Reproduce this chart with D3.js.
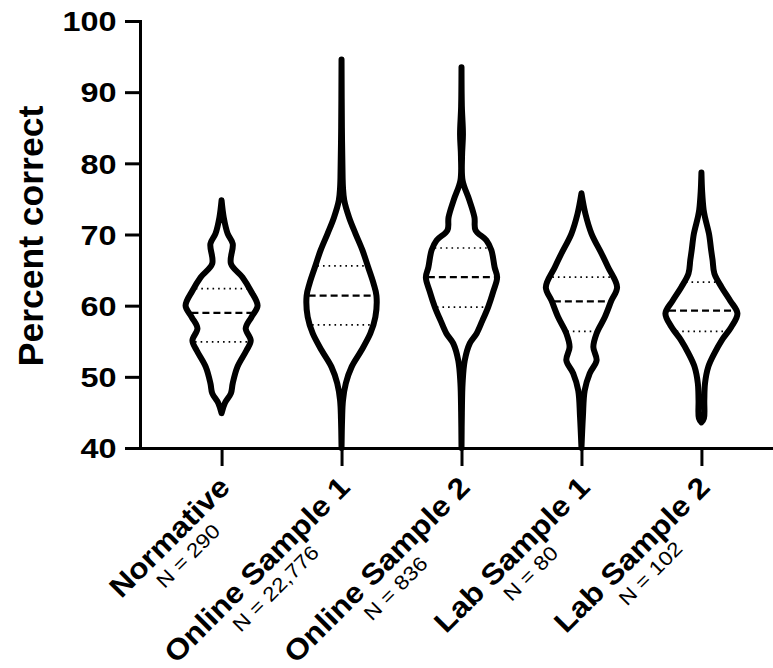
<!DOCTYPE html>
<html>
<head>
<meta charset="utf-8">
<script src="https://cdn.jsdelivr.net/npm/d3@7"></script>
<style>
  body { margin: 0; background: #fff; }
</style>
</head>
<body>
<svg id="chart" width="773" height="668"></svg>
<script>
// groups and sample sizes
const groups = ["Normative", "Online Sample 1", "Online Sample 2", "Lab Sample 1", "Lab Sample 2"];
const sampleN = ["N = 290", "N = 22,776", "N = 836", "N = 80", "N = 102"];

// quartiles (percent correct)
const q1 = [54.9, 57.3, 59.8, 56.4, 56.4];
const medians = [59.0, 61.4, 64.0, 60.6, 59.3];
const q3 = [62.4, 65.6, 68.1, 64.0, 63.3];

// violin outlines: [percent correct, relative density]
const densNormative = [
  [74.8, 0], [72.4, 0.06], [70.1, 0.17], [68.7, 0.31], [65.9, 0.26], [64.0, 0.58],
  [62.1, 0.81], [60.0, 1.0], [58.4, 0.83], [56.8, 0.67], [55.1, 0.81], [53.7, 0.69],
  [51.4, 0.44], [49.1, 0.31], [47.7, 0.26], [46.3, 0.09], [44.9, 0]
];
const densOnline1 = [
  [94.6, 0], [85.0, 0.01], [78.0, 0.03], [76.6, 0.04], [74.8, 0.075], [72.4, 0.21],
  [70.1, 0.39], [67.8, 0.58], [65.4, 0.74], [63.1, 0.89], [61.4, 0.97], [58.4, 0.94],
  [56.1, 0.8], [53.7, 0.55], [51.4, 0.28], [49.1, 0.12], [46.7, 0.04], [44.0, 0.015], [40.0, 0]
];
const densOnline2 = [
  [93.5, 0], [88.0, 0.01], [84.1, 0.04], [81.0, 0.015], [77.6, 0.03], [74.8, 0.22],
  [72.4, 0.36], [70.6, 0.39], [69.2, 0.69], [67.8, 0.83], [65.4, 0.92], [64.0, 0.99],
  [62.1, 0.89], [59.8, 0.74], [57.9, 0.58], [56.1, 0.42], [54.7, 0.23], [52.3, 0.09],
  [49.1, 0.03], [45.0, 0.01], [40.0, 0]
];
const densLab1 = [
  [75.8, 0], [72.9, 0.11], [70.1, 0.28], [67.3, 0.56], [65.4, 0.74], [62.6, 0.99],
  [60.7, 0.83], [58.4, 0.65], [56.1, 0.42], [54.2, 0.33], [52.3, 0.42], [50.5, 0.23],
  [48.1, 0.09], [44.4, 0.04], [40.0, 0]
];
const densLab2 = [
  [78.7, 0], [76.0, 0.02], [73.5, 0.06], [72.4, 0.1], [70.1, 0.21], [67.8, 0.27],
  [66.4, 0.31], [64.5, 0.36], [62.6, 0.56], [60.7, 0.8], [58.9, 1.0], [57.0, 0.83],
  [55.1, 0.56], [53.3, 0.36], [51.4, 0.19], [49.1, 0.1], [46.7, 0.08], [44.2, 0.07], [43.6, 0]
];
const densities = [densNormative, densOnline1, densOnline2, densLab1, densLab2];

const yTicks = [40, 50, 60, 70, 80, 90, 100];

const svg = d3.select("#chart");
const font = "'Liberation Sans', Arial, Helvetica, sans-serif";

// scales
const y = d3.scaleLinear().domain([40, 100]).range([448, 21]);
const x = d3.scalePoint().domain(groups).range([140, 783]).padding(0.68);
const w = d3.scaleLinear().domain([0, 1]).range([0, 36]);

// y axis
const yAxis = svg.append("g")
  .attr("transform", "translate(140,0)")
  .call(d3.axisLeft(y).tickValues(yTicks).tickSize(15).tickSizeOuter(0));
yAxis.select(".domain").attr("stroke-width", 3).attr("stroke-linecap", "square");
yAxis.selectAll(".tick line").attr("stroke-width", 3);
yAxis.selectAll(".tick text")
  .attr("x", 0)
  .attr("dy", "0.36em")
  .attr("transform", "translate(-23.5,0) scale(1.2,1)")
  .attr("font-family", font)
  .attr("font-weight", "bold")
  .attr("font-size", 27);

// x axis
const xAxis = svg.append("g")
  .attr("transform", "translate(0,448)")
  .call(d3.axisBottom(x).tickSize(18).tickSizeOuter(0).tickFormat(""));
xAxis.select(".domain").attr("stroke-width", 3).attr("stroke-linecap", "square");
xAxis.selectAll(".tick line").attr("stroke-width", 3);

// y axis title
svg.append("text")
  .attr("transform", "translate(42.5,236) rotate(-90)")
  .attr("text-anchor", "middle")
  .attr("font-family", font)
  .attr("font-weight", "bold")
  .attr("font-size", 35.5)
  .text("Percent correct");

// half width of a violin at a given value (linear between outline points)
function halfAt(dens, v) {
  for (let k = 0; k < dens.length - 1; k++) {
    const a = dens[k], b = dens[k + 1];
    if (v <= a[0] && v >= b[0]) {
      const t = (a[0] - v) / (a[0] - b[0]);
      return w(a[1] + t * (b[1] - a[1]));
    }
  }
  return 0;
}

// violins
const area = d3.area().curve(d3.curveCatmullRom).y(d => y(d[0]));

groups.forEach((g, i) => {
  const cx = x(g);
  const dens = densities[i];

  svg.append("path")
    .datum(dens)
    .attr("d", area.x0(d => cx - w(d[1])).x1(d => cx + w(d[1])))
    .attr("fill", "none")
    .attr("stroke", "#000")
    .attr("stroke-width", 6)
    .attr("stroke-linejoin", "round");

  // quartile lines
  const lines = [
    { v: q1[i], dash: "1.6,4", sw: 1.7 },
    { v: medians[i], dash: "7,4", sw: 2.2 },
    { v: q3[i], dash: "1.6,4", sw: 1.7 }
  ];
  lines.forEach(l => {
    const hw = halfAt(dens, l.v) - 2;
    svg.append("line")
      .attr("x1", cx - hw)
      .attr("x2", cx + hw)
      .attr("y1", y(l.v))
      .attr("y2", y(l.v))
      .attr("stroke", "#000")
      .attr("stroke-width", l.sw)
      .attr("stroke-dasharray", l.dash);
  });

  // rotated category labels
  const lab = svg.append("g")
    .attr("transform", `translate(${cx + 10},489) rotate(-45)`);
  const t1 = lab.append("text")
    .attr("text-anchor", "end")
    .attr("transform", "scale(1.1,1)")
    .attr("font-family", font)
    .attr("font-weight", "bold")
    .attr("font-size", 29)
    .text(g);
  const len = t1.node().getComputedTextLength() * 1.1;
  lab.append("text")
    .attr("text-anchor", "middle")
    .attr("transform", `translate(${-len / 2},23.5) scale(1.14,1)`)
    .attr("font-family", font)
    .attr("font-size", 20)
    .text(sampleN[i]);
});
</script>
</body>
</html>
